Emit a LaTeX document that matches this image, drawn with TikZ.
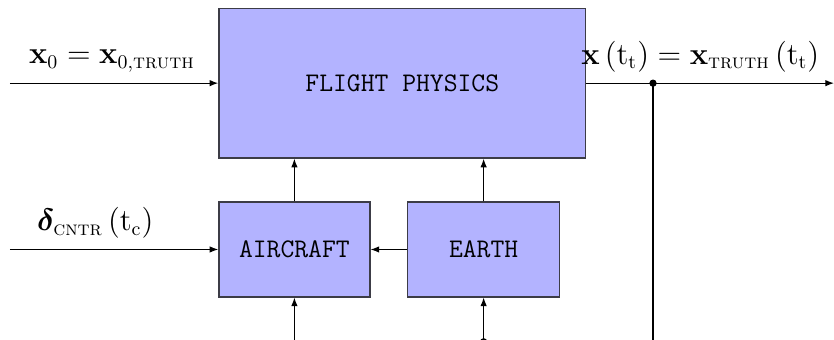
\documentclass[tikz,border=0pt]{standalone}
\usepackage{amsmath}
\usepackage{amssymb}
\usepackage{bm}
\usetikzlibrary{arrows.meta, positioning, calc}
\definecolor{boxfill}{RGB}{179,179,255}
\definecolor{boxframe}{RGB}{60,60,70}
\tikzset{
  block/.style={rectangle, draw=boxframe, fill=boxfill, align=center,
    font=\fontsize{12.5}{15}\selectfont\ttfamily, line width=0.6pt},
  lbl/.style={font=\fontsize{13.5}{16}\selectfont, inner sep=2pt},
  arrow/.style={-{Latex[length=4pt, width=3pt]}, line width=0.5pt, color=black},
  line/.style={line width=0.5pt, color=black}
}

\begin{document}
\begin{tikzpicture}
  \useasboundingbox (0,0) rectangle (13.64,5.56);

  % Blocks
  \node[block, minimum width=6.0cm, minimum height=2.45cm] (phys) at (6.58,4.20) {FLIGHT PHYSICS};
  \node[block, minimum width=2.47cm, minimum height=1.55cm] (air) at (4.815,1.48) {AIRCRAFT};
  \node[block, minimum width=2.49cm, minimum height=1.55cm] (earth) at (7.91,1.48) {EARTH};

  % Inputs
  \coordinate (xin) at (0.16,4.20);
  \coordinate (din) at (0.16,1.48);
  \draw[arrow] (xin) -- (phys.west)
    node[lbl, pos=0.49, above=3pt] (xlbl) {$\mathbf{x}_0 = \mathbf{x}_{0,\textsc{truth}}$};
  \draw[arrow] (din) -- (air.west)
    node[lbl, pos=0.41, above=3pt] (dlbl) {$\bm{\delta}_{\textsc{cntr}}\left(\mathrm{t_c}\right)$};

  % Output
  \coordinate (xout) at (13.64,4.20);
  \coordinate (tap) at (10.68,4.20);
  \draw[arrow] (phys.east) -- (xout)
    node[lbl, pos=0.46, above=3pt] (olbl) {$\mathbf{x}\left(\mathrm{t_t}\right) = \mathbf{x}_{\textsc{truth}}\left(\mathrm{t_t}\right)$};
  \fill (tap) circle (1.7pt);
  \draw[line] (tap) -- (tap |- 0,0);

  % Internal links
  \draw[arrow] (air.north) -- (air.north |- phys.south);
  \draw[arrow] (earth.north) -- (earth.north |- phys.south);
  \draw[arrow] (earth.west) -- (air.east);

  % Lower inputs
  \coordinate (ain) at (air.south |- 0,0);
  \coordinate (ein) at (earth.south |- 0,-0.03);
  \draw[arrow] (ain) -- (air.south);
  \draw[arrow] (ein) -- (earth.south);
  \fill (ein) circle (1.7pt);

\end{tikzpicture}
\end{document}
